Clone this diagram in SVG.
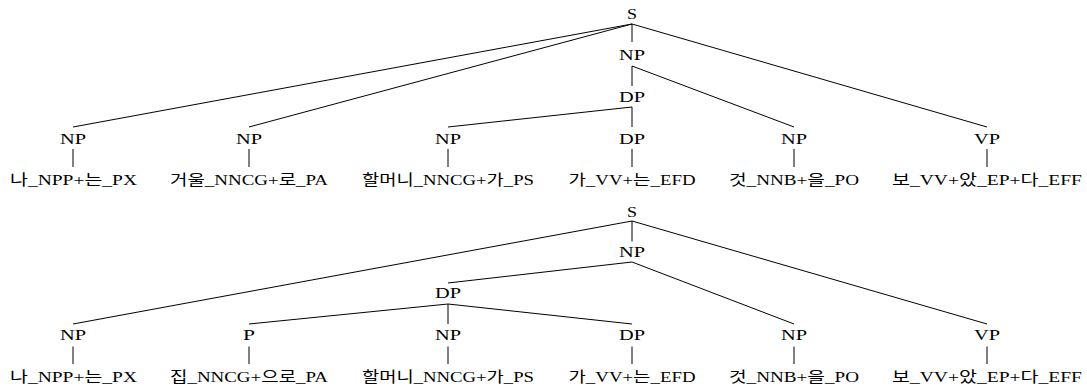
<svg xmlns="http://www.w3.org/2000/svg" width="1087" height="390" viewBox="0 0 1087 390">
  <style>
    text { font-family: "Liberation Serif", "Noto Sans CJK KR", serif; font-size: 14.5px; fill: #000; text-anchor: middle; }
    .edge { stroke: #000; stroke-width: 1; fill: none; }
  </style>
  <rect width="1087" height="390" fill="#fff"/>

  <!-- Upper parse tree -->
  <g id="connectors-top">
    <line class="edge" x1="632" y1="24" x2="73" y2="127"/>
    <line class="edge" x1="632" y1="24" x2="249" y2="127"/>
    <line class="edge" x1="632" y1="24" x2="632" y2="42"/>
    <line class="edge" x1="632" y1="24" x2="987" y2="127"/>
    <line class="edge" x1="632" y1="66" x2="632" y2="86"/>
    <line class="edge" x1="632" y1="66" x2="794" y2="127"/>
    <line class="edge" x1="632" y1="107" x2="448" y2="127"/>
    <line class="edge" x1="632" y1="107" x2="632" y2="127"/>
    <line class="edge" x1="73" y1="149" x2="73" y2="167"/>
    <line class="edge" x1="249" y1="149" x2="249" y2="167"/>
    <line class="edge" x1="448" y1="149" x2="448" y2="167"/>
    <line class="edge" x1="632" y1="149" x2="632" y2="167"/>
    <line class="edge" x1="794" y1="149" x2="794" y2="167"/>
    <line class="edge" x1="987" y1="149" x2="987" y2="167"/>
  </g>
  <g id="t1-S"><text x="632" y="19" textLength="10" lengthAdjust="spacingAndGlyphs">S</text></g>
  <g id="t1-NP-obj"><text x="632" y="60" textLength="26" lengthAdjust="spacingAndGlyphs">NP</text></g>
  <g id="t1-DP-rel"><text x="632" y="102" textLength="26" lengthAdjust="spacingAndGlyphs">DP</text></g>
  <g id="t1-NP1"><text x="73" y="143.5" textLength="26" lengthAdjust="spacingAndGlyphs">NP</text></g>
  <g id="t1-NP2"><text x="249" y="143.5" textLength="26" lengthAdjust="spacingAndGlyphs">NP</text></g>
  <g id="t1-NP3"><text x="448" y="143.5" textLength="26" lengthAdjust="spacingAndGlyphs">NP</text></g>
  <g id="t1-DP"><text x="632" y="143.5" textLength="26" lengthAdjust="spacingAndGlyphs">DP</text></g>
  <g id="t1-NP5"><text x="794" y="143.5" textLength="26" lengthAdjust="spacingAndGlyphs">NP</text></g>
  <g id="t1-VP"><text x="987" y="143.5" textLength="26" lengthAdjust="spacingAndGlyphs">VP</text></g>
  <g id="t1-w1"><text x="73.5" y="184.5" textLength="127" lengthAdjust="spacingAndGlyphs">나_NPP+는_PX</text></g>
  <g id="t1-w2"><text x="249" y="184.5" textLength="158" lengthAdjust="spacingAndGlyphs">거울_NNCG+로_PA</text></g>
  <g id="t1-w3"><text x="448" y="184.5" textLength="172" lengthAdjust="spacingAndGlyphs">할머니_NNCG+가_PS</text></g>
  <g id="t1-w4"><text x="632" y="184.5" textLength="127" lengthAdjust="spacingAndGlyphs">가_VV+는_EFD</text></g>
  <g id="t1-w5"><text x="794" y="184.5" textLength="130" lengthAdjust="spacingAndGlyphs">것_NNB+을_PO</text></g>
  <g id="t1-w6"><text x="987" y="184.5" textLength="190" lengthAdjust="spacingAndGlyphs">보_VV+았_EP+다_EFF</text></g>

  <!-- Lower parse tree -->
  <g id="connectors-bottom">
    <line class="edge" x1="632" y1="221" x2="73" y2="324"/>
    <line class="edge" x1="632" y1="221" x2="632" y2="241.5"/>
    <line class="edge" x1="632" y1="221" x2="987" y2="324"/>
    <line class="edge" x1="632" y1="262" x2="448" y2="283"/>
    <line class="edge" x1="632" y1="262" x2="794" y2="324"/>
    <line class="edge" x1="448" y1="304" x2="249" y2="324"/>
    <line class="edge" x1="448" y1="304" x2="448" y2="324"/>
    <line class="edge" x1="448" y1="304" x2="632" y2="324"/>
    <line class="edge" x1="73" y1="346.5" x2="73" y2="364"/>
    <line class="edge" x1="249" y1="346.5" x2="249" y2="364"/>
    <line class="edge" x1="448" y1="346.5" x2="448" y2="364"/>
    <line class="edge" x1="632" y1="346.5" x2="632" y2="364"/>
    <line class="edge" x1="794" y1="346.5" x2="794" y2="364"/>
    <line class="edge" x1="987" y1="346.5" x2="987" y2="364"/>
  </g>
  <g id="t2-S"><text x="632" y="216.5" textLength="10" lengthAdjust="spacingAndGlyphs">S</text></g>
  <g id="t2-NP-obj"><text x="632" y="256.5" textLength="26" lengthAdjust="spacingAndGlyphs">NP</text></g>
  <g id="t2-DP-rel"><text x="448" y="298" textLength="26" lengthAdjust="spacingAndGlyphs">DP</text></g>
  <g id="t2-NP1"><text x="73" y="340" textLength="26" lengthAdjust="spacingAndGlyphs">NP</text></g>
  <g id="t2-P"><text x="249" y="340" textLength="12" lengthAdjust="spacingAndGlyphs">P</text></g>
  <g id="t2-NP3"><text x="448" y="340" textLength="26" lengthAdjust="spacingAndGlyphs">NP</text></g>
  <g id="t2-DP"><text x="632" y="340" textLength="26" lengthAdjust="spacingAndGlyphs">DP</text></g>
  <g id="t2-NP5"><text x="794" y="340" textLength="26" lengthAdjust="spacingAndGlyphs">NP</text></g>
  <g id="t2-VP"><text x="987" y="340" textLength="26" lengthAdjust="spacingAndGlyphs">VP</text></g>
  <g id="t2-w1"><text x="73.5" y="381.5" textLength="127" lengthAdjust="spacingAndGlyphs">나_NPP+는_PX</text></g>
  <g id="t2-w2"><text x="249" y="381.5" textLength="158" lengthAdjust="spacingAndGlyphs">집_NNCG+으로_PA</text></g>
  <g id="t2-w3"><text x="448" y="381.5" textLength="172" lengthAdjust="spacingAndGlyphs">할머니_NNCG+가_PS</text></g>
  <g id="t2-w4"><text x="632" y="381.5" textLength="127" lengthAdjust="spacingAndGlyphs">가_VV+는_EFD</text></g>
  <g id="t2-w5"><text x="794" y="381.5" textLength="130" lengthAdjust="spacingAndGlyphs">것_NNB+을_PO</text></g>
  <g id="t2-w6"><text x="987" y="381.5" textLength="190" lengthAdjust="spacingAndGlyphs">보_VV+았_EP+다_EFF</text></g>
</svg>
